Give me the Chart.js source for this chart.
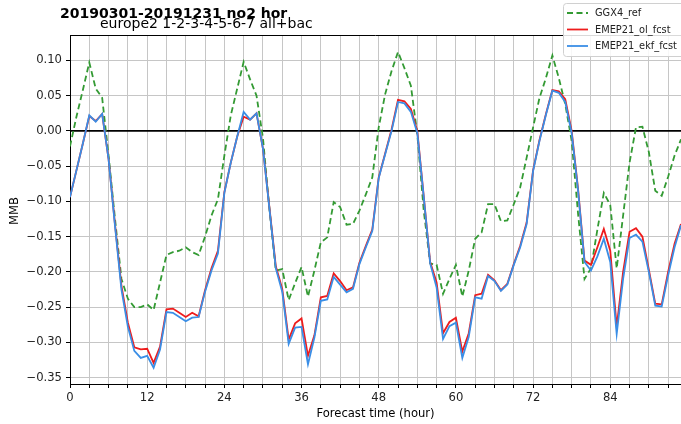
<!DOCTYPE html>
<html><head><meta charset="utf-8">
<script src="https://cdn.jsdelivr.net/npm/chart.js@4.4.0/dist/chart.umd.min.js"></script>
<style>html,body{margin:0;padding:0;background:#fff;overflow:hidden}#wrap{position:relative;width:681px;height:424px}</style>
</head><body><div id="wrap"><canvas id="c" width="681" height="424"></canvas></div>
<script>
const hours = [0,1,2,3,4,5,6,7,8,9,10,11,12,13,14,15,16,17,18,19,20,21,22,23,24,25,26,27,28,29,30,31,32,33,34,35,36,37,38,39,40,41,42,43,44,45,46,47,48,49,50,51,52,53,54,55,56,57,58,59,60,61,62,63,64,65,66,67,68,69,70,71,72,73,74,75,76,77,78,79,80,81,82,83,84,85,86,87,88,89,90,91,92,93,94,95];
const ggx4Ref = [-0.022,0.02,0.058,0.097,0.06,0.047,-0.035,-0.125,-0.21,-0.238,-0.25,-0.25,-0.246,-0.254,-0.215,-0.176,-0.172,-0.17,-0.165,-0.172,-0.176,-0.15,-0.12,-0.097,-0.035,0.022,0.06,0.098,0.073,0.05,-0.01,-0.11,-0.198,-0.196,-0.24,-0.216,-0.193,-0.235,-0.198,-0.158,-0.151,-0.101,-0.108,-0.133,-0.132,-0.113,-0.09,-0.066,0.005,0.052,0.085,0.112,0.089,0.064,-0.005,-0.113,-0.188,-0.19,-0.231,-0.21,-0.19,-0.235,-0.198,-0.153,-0.144,-0.104,-0.104,-0.128,-0.127,-0.104,-0.08,-0.038,0.005,0.047,0.075,0.107,0.075,0.038,-0.014,-0.118,-0.21,-0.195,-0.14,-0.088,-0.105,-0.195,-0.12,-0.045,0.005,0.006,-0.03,-0.085,-0.092,-0.065,-0.035,-0.012];
const emepOl = [-0.094,-0.056,-0.018,0.021,0.014,0.024,-0.04,-0.133,-0.22,-0.272,-0.307,-0.31,-0.309,-0.329,-0.306,-0.253,-0.252,-0.258,-0.264,-0.258,-0.263,-0.226,-0.195,-0.17,-0.087,-0.045,-0.008,0.02,0.016,0.025,-0.025,-0.108,-0.192,-0.224,-0.296,-0.273,-0.266,-0.319,-0.29,-0.236,-0.234,-0.202,-0.213,-0.226,-0.222,-0.187,-0.163,-0.14,-0.066,-0.032,0.002,0.044,0.042,0.031,0.0,-0.093,-0.186,-0.215,-0.287,-0.271,-0.265,-0.313,-0.287,-0.233,-0.231,-0.204,-0.212,-0.226,-0.217,-0.189,-0.163,-0.13,-0.056,-0.013,0.024,0.058,0.056,0.045,0.0,-0.083,-0.184,-0.19,-0.165,-0.139,-0.17,-0.278,-0.2,-0.143,-0.138,-0.15,-0.197,-0.245,-0.246,-0.2,-0.16,-0.132];
const emepEkf = [-0.094,-0.056,-0.018,0.022,0.013,0.024,-0.04,-0.135,-0.225,-0.278,-0.312,-0.322,-0.319,-0.336,-0.31,-0.257,-0.258,-0.264,-0.27,-0.265,-0.264,-0.228,-0.198,-0.174,-0.088,-0.045,-0.008,0.027,0.016,0.025,-0.025,-0.11,-0.195,-0.228,-0.302,-0.279,-0.278,-0.331,-0.293,-0.241,-0.239,-0.207,-0.218,-0.229,-0.224,-0.189,-0.165,-0.142,-0.067,-0.033,0.0,0.041,0.039,0.027,-0.003,-0.094,-0.188,-0.222,-0.295,-0.277,-0.272,-0.322,-0.292,-0.236,-0.238,-0.206,-0.213,-0.227,-0.218,-0.19,-0.165,-0.132,-0.057,-0.014,0.023,0.057,0.054,0.041,-0.003,-0.085,-0.186,-0.198,-0.178,-0.153,-0.186,-0.288,-0.21,-0.152,-0.147,-0.157,-0.2,-0.248,-0.249,-0.205,-0.165,-0.134];
const seriesNames = ["GGX4_ref", "EMEP21_ol_fcst", "EMEP21_ekf_fcst"];
const yTickValues = [-0.35,-0.30,-0.25,-0.20,-0.15,-0.10,-0.05,0.00,0.05,0.10];
const xTickLabels = [0,12,24,36,48,60,72,84];
const titleText = "20190301-20191231 no2 hor";
const subtitleText = "europe2 1-2-3-4-5-6-7 all+bac";
const xAxisTitle = "Forecast time (hour)";
const yAxisTitle = "MMB";

const FONT = "'DejaVu Sans', sans-serif";
const toPts = (vals) => hours.map((h, i) => ({x: h, y: vals[i]}));

const styles = [
  {color: '#339a33', dash: [6, 3.5], width: 1.8, order: 2},
  {color: '#ee1c1c', dash: [], width: 1.8, order: 1},
  {color: '#3a8ee6', dash: [], width: 1.8, order: 0}
];
const seriesVals = [ggx4Ref, emepOl, emepEkf];

const textPlugin = {
  id: 'extras',
  beforeDatasetsDraw(chart) {
    const {ctx, chartArea: a, scales: {y}} = chart;
    const y0 = y.getPixelForValue(0);
    ctx.save();
    ctx.strokeStyle = '#000';
    ctx.lineWidth = 1.6;
    ctx.beginPath(); ctx.moveTo(a.left, y0); ctx.lineTo(a.right, y0); ctx.stroke();
    ctx.restore();
  },
  afterDraw(chart) {
    const {ctx, chartArea: a} = chart;
    ctx.save();
    ctx.strokeStyle = '#000'; ctx.lineWidth = 1;
    ctx.beginPath(); ctx.moveTo(a.left, a.top + 0.5); ctx.lineTo(a.right, a.top + 0.5); ctx.stroke();
    ctx.fillStyle = '#000';
    ctx.textBaseline = 'alphabetic';
    ctx.textAlign = 'left';
    ctx.font = "bold 14px " + FONT;
    ctx.fillText(titleText, 60, 18);
    ctx.font = "14px " + FONT;
    ctx.fillText(subtitleText, 100, 27.5);
    ctx.font = "11.6px " + FONT;
    ctx.textAlign = 'center';
    ctx.fillText(xAxisTitle, (a.left + 681) / 2, 417);
    ctx.save();
    ctx.translate(18, 211);
    ctx.rotate(-Math.PI / 2);
    ctx.fillText(yAxisTitle, 0, 0);
    ctx.restore();
    const lx = 563, ly = 3, lw = 125, lh = 53;
    ctx.fillStyle = 'rgba(255,255,255,0.85)';
    ctx.strokeStyle = '#d0d0d0';
    ctx.lineWidth = 1;
    ctx.beginPath();
    ctx.roundRect(lx + 0.5, ly + 0.5, lw, lh, 3);
    ctx.fill(); ctx.stroke();
    ctx.font = "9.8px " + FONT;
    ctx.textAlign = 'left';
    ctx.textBaseline = 'middle';
    const rows = [13, 29.5, 46];
    seriesNames.forEach((name, i) => {
      const s = styles[i];
      ctx.strokeStyle = s.color; ctx.lineWidth = s.width; ctx.setLineDash(s.dash);
      ctx.beginPath(); ctx.moveTo(567, rows[i]); ctx.lineTo(588, rows[i]); ctx.stroke();
      ctx.setLineDash([]);
      ctx.fillStyle = '#222';
      ctx.fillText(name, 595, rows[i] + 0.5);
    });
    ctx.restore();
  }
};

const fmt = (v) => {
  const s = Math.abs(v) < 1e-9 ? '0.00' : v.toFixed(2);
  return s.replace('-', '\u2212');
};

new Chart(document.getElementById('c'), {
  type: 'line',
  data: {
    datasets: seriesNames.map((name, i) => ({
      label: name,
      data: toPts(seriesVals[i]),
      borderColor: styles[i].color,
      borderDash: styles[i].dash,
      borderWidth: styles[i].width,
      order: styles[i].order,
      pointRadius: 0,
      tension: 0,
      fill: false
    }))
  },
  options: {
    responsive: false,
    animation: false,
    devicePixelRatio: 1,
    layout: {padding: {top: 35, left: 0, right: 0, bottom: 0}},
    plugins: {legend: {display: false}, title: {display: false}, tooltip: {enabled: false}},
    scales: {
      x: {
        type: 'linear',
        min: 0, max: 95,
        afterFit: (s) => { s.height = 40; },
        border: {display: true, color: '#000', width: 1},
        grid: {color: '#c6c6c6', lineWidth: 1, tickColor: '#000', tickLength: 4},
        ticks: {
          stepSize: 3, includeBounds: false, autoSkip: false, maxRotation: 0, padding: 3,
          color: '#222', font: {family: FONT, size: 11.6},
          callback: (v) => xTickLabels.includes(v) ? String(v) : ''
        }
      },
      y: {
        type: 'linear',
        min: -0.359, max: 0.136,
        afterFit: (s) => { s.width = 70; },
        afterBuildTicks: (s) => { s.ticks = yTickValues.map(v => ({value: v})); },
        border: {display: true, color: '#000', width: 1},
        grid: {color: '#c6c6c6', lineWidth: 1, tickColor: '#000', tickLength: 4},
        ticks: {padding: 4, color: '#222', font: {family: FONT, size: 11.6}, callback: (v) => fmt(v)}
      }
    }
  },
  plugins: [textPlugin]
});
</script></body></html>
